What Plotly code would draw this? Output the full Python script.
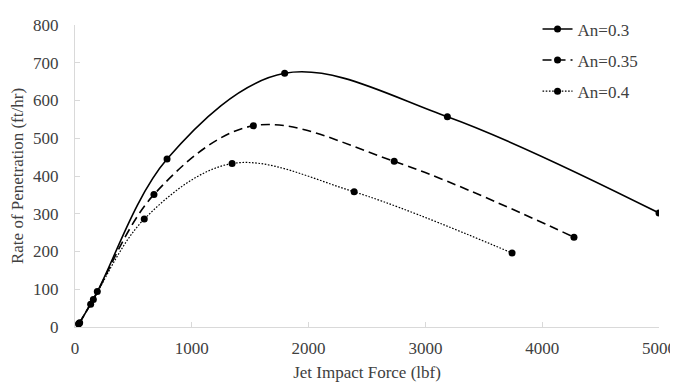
import plotly.graph_objects as go

# Data
series_names = ["An=0.3", "An=0.35", "An=0.4"]
force_an03 = [40, 191, 788, 1795, 3188, 5000]
rop_an03 = [11, 94, 445, 672, 557, 302]
force_an035 = [35, 157, 676, 1527, 2733, 4272]
rop_an035 = [9, 73, 351, 533, 439, 238]
force_an04 = [30, 134, 593, 1345, 2390, 3742]
rop_an04 = [8, 60, 286, 433, 358, 196]
x_ticks = [0, 1000, 2000, 3000, 4000, 5000]
y_ticks = [0, 100, 200, 300, 400, 500, 600, 700, 800]

dashes = ["solid", "9px,5px", "1.6px,1.6px"]
widths = [1.6, 1.6, 1.2]
xs = [force_an03, force_an035, force_an04]
ys = [rop_an03, rop_an035, rop_an04]

FONT = "Liberation Serif, Times New Roman, serif"
AXIS_GRAY = "#d9d9d9"
TXT = "#404040"

fig = go.Figure()
for i, name in enumerate(series_names):
    fig.add_trace(go.Scatter(
        x=xs[i], y=ys[i], name=name, legendgroup=name,
        mode="lines+markers",
        line=dict(color="black", width=widths[i], dash=dashes[i], shape="spline", smoothing=1.0),
        marker=dict(color="black", size=7, symbol="circle"),
    ))

fig.update_layout(
    width=670, height=375,
    margin=dict(l=67, r=19, t=3, b=56),
    paper_bgcolor="white", plot_bgcolor="white",
    font=dict(family=FONT, size=17, color=TXT),
    legend=dict(x=0.792, y=1.045, xanchor="left", yanchor="top",
                font=dict(family=FONT, size=17, color=TXT),
                tracegroupgap=6, bgcolor="rgba(0,0,0,0)", itemwidth=30),
    showlegend=True,
)
fig.update_xaxes(
    range=[0, 5000], tickvals=x_ticks, ticktext=[str(v) for v in x_ticks],
    showgrid=False, zeroline=False, showline=True, linecolor=AXIS_GRAY, linewidth=1,
    ticks="inside", ticklen=5, tickcolor=AXIS_GRAY, tickwidth=1,
    ticklabelstandoff=6, automargin=False, ticklabeloverflow="allow",
    title=dict(text="Jet Impact Force (lbf)", font=dict(family=FONT, size=17, color=TXT), standoff=8),
    tickfont=dict(family=FONT, size=17, color=TXT),
)
fig.update_yaxes(
    range=[0, 800], tickvals=y_ticks, ticktext=[str(v) for v in y_ticks],
    showgrid=False, zeroline=False, showline=True, linecolor=AXIS_GRAY, linewidth=1,
    ticks="inside", ticklen=5, tickcolor=AXIS_GRAY, tickwidth=1,
    ticklabelstandoff=12, automargin=False,
    title=dict(text="Rate of Penetration (ft/hr)", font=dict(family=FONT, size=17, color=TXT), standoff=6),
    tickfont=dict(family=FONT, size=17, color=TXT),
)

fig.write_html(
    "out.html",
    post_script="document.documentElement.style.overflow='hidden';document.body.style.overflow='hidden';",
)
